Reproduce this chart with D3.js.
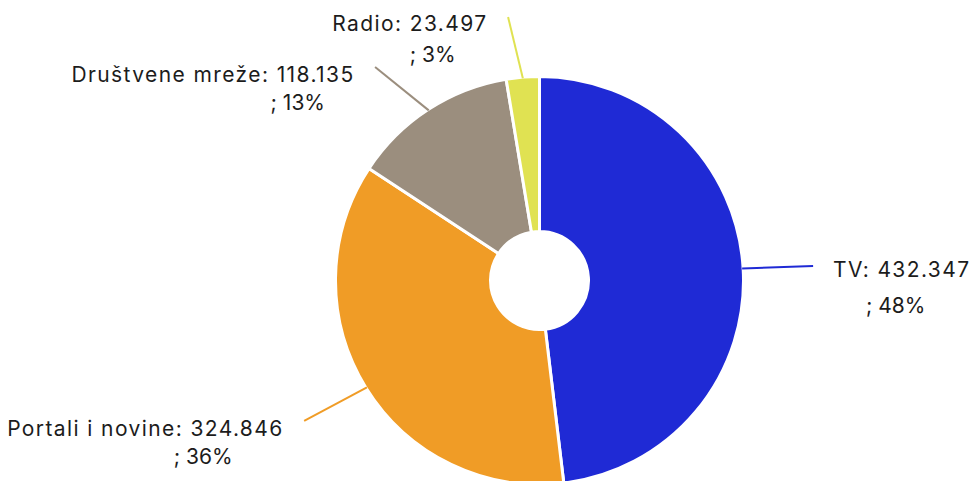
<!DOCTYPE html>
<html>
<head>
<meta charset="utf-8">
<script src="https://cdn.jsdelivr.net/npm/d3@7"></script>
<style>
  html, body { margin: 0; padding: 0; background: #fff; }
  svg { display: block; }
  text { font-family: Inter, "Noto Sans", sans-serif; fill: #1c1c1c; }
</style>
</head>
<body>
<svg id="chart" width="973" height="481"></svg>
<script>
// Media reach by channel
const categories = ["TV", "Portali i novine", "Društvene mreže", "Radio"];
const values = [432347, 324846, 118135, 23497];
const colors = ["#1f2ad5", "#f09c26", "#9b8e7e", "#e0e252"];

// Label layout: where each leader line ends (polar, degrees clockwise from top),
// the gap between the two label lines, and the shift of "; N%" from the first line's centre
const leaderEndAngle = [86.97, 239.2, 322.4, 353.2];
const leaderEndRadius = [274, 274, 269.5, 265.4];
const lineGap = [36, 28.6, 27.7, 31];
const secondLineShift = [-5.3, 58.5, 85.5, 23.5];

const cx = 539.5, cy = 280.5;
const outerR = 204, innerR = 49;
const leaderStartR = 203;
const fontSize = 21;

const fmt = d3.formatLocale({ decimal: ",", thousands: ".", grouping: [3], currency: ["", ""] }).format(",d");
const total = d3.sum(values);

const data = categories.map((c, i) => ({ name: c, value: values[i], color: colors[i], i }));

const pie = d3.pie().value(d => d.value).sort(null).startAngle(0).endAngle(2 * Math.PI);
const arc = d3.arc().innerRadius(innerR).outerRadius(outerR);

const svg = d3.select("#chart");
const g = svg.append("g").attr("transform", `translate(${cx},${cy})`);

const arcs = pie(data);

g.selectAll("path.slice")
  .data(arcs)
  .join("path")
  .attr("class", "slice")
  .attr("d", arc)
  .attr("fill", d => d.data.color)
  .attr("stroke", "#fff")
  .attr("stroke-width", 3)
  .attr("stroke-linejoin", "round");

const polar = (r, a) => [r * Math.sin(a), -r * Math.cos(a)];
const rad = deg => deg * Math.PI / 180;

arcs.forEach(d => {
  const i = d.data.i;
  const mid = (d.startAngle + d.endAngle) / 2;
  const [x0, y0] = polar(leaderStartR, mid);
  const [x1, y1] = polar(leaderEndRadius[i], rad(leaderEndAngle[i]));
  g.append("line")
    .attr("x1", x0).attr("y1", y0)
    .attr("x2", x1).attr("y2", y1)
    .attr("stroke", d.data.color)
    .attr("stroke-width", 2);

  const right = x1 > 0;
  const pct = Math.round(d.data.value / total * 100);
  const blockMid = y1 + 29.3;
  const t1 = g.append("text")
    .attr("x", right ? x1 + 20 : x1 - 20.5)
    .attr("y", blockMid - lineGap[i] / 2)
    .attr("text-anchor", right ? "start" : "end")
    .attr("font-size", fontSize)
    .attr("letter-spacing", 1.4)
    .text(`${d.data.name}: ${fmt(d.data.value)}`);
  const w = t1.node().getComputedTextLength() - 1.4;
  const center = right ? x1 + 20 + w / 2 : x1 - 20.5 - 1.4 - w / 2;
  g.append("text")
    .attr("x", center + secondLineShift[i])
    .attr("y", blockMid + lineGap[i] / 2)
    .attr("text-anchor", "middle")
    .attr("font-size", fontSize)
    .text(`; ${pct}%`);
});
</script>
</body>
</html>
